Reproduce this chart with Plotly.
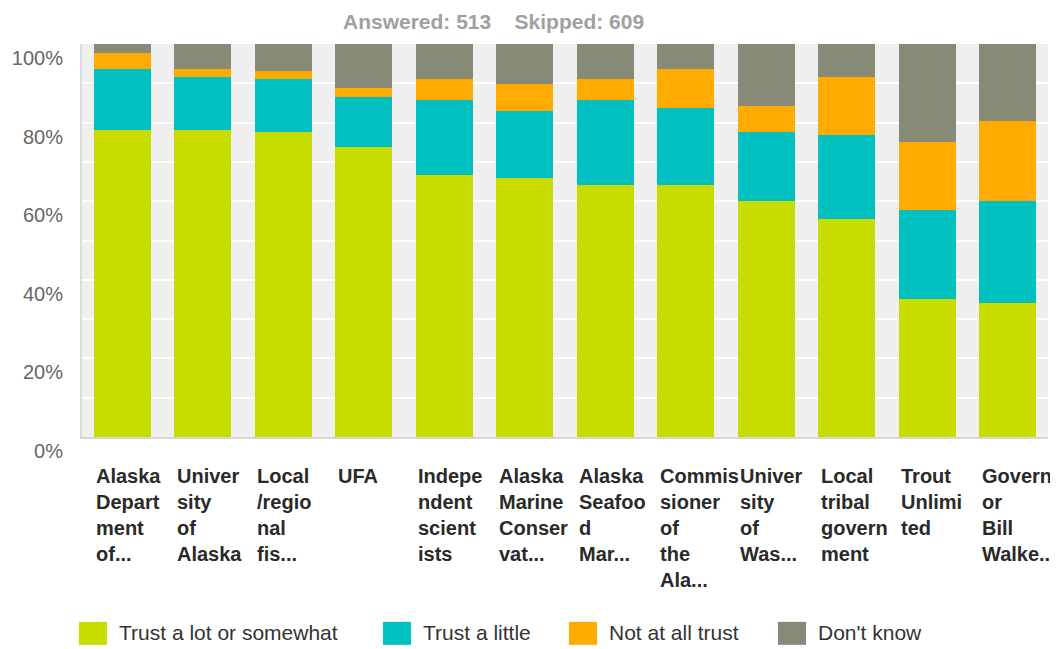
import plotly.graph_objects as go

# ---------------- data ----------------
categories = [
    "Alaska Department of Fish and Game",
    "University of Alaska",
    "Local/regional fishing organizations",
    "UFA",
    "Independent scientists",
    "Alaska Marine Conservation Council",
    "Alaska Seafood Marketing Institute",
    "Commissioner of the Alaska Department of Fish and Game",
    "University of Washington",
    "Local tribal government",
    "Trout Unlimited",
    "Governor Bill Walker",
]
tick_labels = [
    "Alaska<br>Depart<br>ment<br>of...",
    "Univer<br>sity<br>of<br>Alaska",
    "Local<br>/regio<br>nal<br>fis...",
    "UFA",
    "Indepe<br>ndent<br>scient<br>ists",
    "Alaska<br>Marine<br>Conser<br>vat...",
    "Alaska<br>Seafoo<br>d<br>Mar...",
    "Commis<br>sioner<br>of<br>the<br>Ala...",
    "Univer<br>sity<br>of<br>Was...",
    "Local<br>tribal<br>govern<br>ment",
    "Trout<br>Unlimi<br>ted",
    "Govern<br>or<br>Bill<br>Walke...",
]
trust_lot = [78.0, 78.0, 77.5, 73.7, 66.6, 66.0, 64.1, 64.1, 60.1, 55.4, 35.0, 34.1]
trust_little = [15.6, 13.7, 13.7, 12.8, 19.2, 16.9, 21.7, 19.5, 17.4, 21.5, 22.7, 26.0]
not_at_all = [4.1, 1.9, 1.9, 2.2, 5.4, 6.8, 5.4, 10.0, 6.6, 14.8, 17.4, 20.4]
dont_know = [2.3, 6.4, 6.9, 11.3, 8.8, 10.3, 8.8, 6.4, 15.9, 8.3, 24.9, 19.5]

series_names = ["Trust a lot or somewhat", "Trust a little", "Not at all trust", "Don't know"]
series_values = [trust_lot, trust_little, not_at_all, dont_know]
series_colors = ["#c8dc00", "#00c0c0", "#ffab00", "#878a77"]

y_ticks = [0, 20, 40, 60, 80, 100]
title_text = "Answered: 513\u00a0\u00a0\u00a0\u00a0Skipped: 609"

# ---------------- layout geometry ----------------
# page has an 8px body margin; work in page pixels and convert
OFF = 8
W, H = 1058 - OFF, 649 - OFF
PL, PR, PT, PB = 82, 1048, 43.7, 437   # plot area in page pixels
ML, MR, MT, MB = PL - OFF, W - (PR - OFF), PT - OFF, H - (PB - OFF)
PW, PH = PR - PL, PB - PT
FONT = "Arial, Liberation Sans, sans-serif"


def px_x(p):
    return (p - PL) / PW


def px_y(p):
    return (PB - p) / PH


fig = go.Figure()
for name, vals, col in zip(series_names, series_values, series_colors):
    fig.add_trace(go.Bar(
        x=categories, y=vals, name=name,
        marker=dict(color=col, line=dict(width=0)),
        showlegend=False,
    ))

annotations = []
# title (anchored to the top edge of the figure so it is not clipped)
annotations.append(dict(
    text=title_text, xref="paper", yref="paper",
    x=px_x(493), y=px_y(OFF + 0.5), xanchor="center", yanchor="top",
    borderpad=0, showarrow=False,
    font=dict(family=FONT, size=21, color="#a0a0a0", weight="bold"),
))
# category labels (left-aligned, wrapped)
for cat, lab in zip(categories, tick_labels):
    annotations.append(dict(
        text=lab, x=cat, xref="x", y=0, yref="paper",
        xanchor="left", yanchor="top", align="left",
        xshift=-28, yshift=-26, showarrow=False,
        font=dict(family=FONT, size=20, color="#2a2a2a", weight="bold"),
    ))

# manual legend
legend_x = [79, 383, 569, 778]
shapes = []
for lx, name, col in zip(legend_x, series_names, series_colors):
    shapes.append(dict(
        type="rect", xref="paper", yref="paper",
        x0=px_x(lx), x1=px_x(lx + 28), y0=px_y(645), y1=px_y(622),
        fillcolor=col, line=dict(width=0), layer="above",
    ))
    annotations.append(dict(
        text=name, xref="paper", yref="paper",
        x=px_x(lx + 38), y=px_y(633), xanchor="left", yanchor="middle",
        showarrow=False, font=dict(family=FONT, size=21, color="#333333"),
    ))

fig.update_layout(
    width=W, height=H,
    margin=dict(l=ML, r=MR, t=MT, b=MB, pad=0, autoexpand=False),
    barmode="stack", bargap=0.29,
    plot_bgcolor="#efefef", paper_bgcolor="#ffffff",
    font=dict(family=FONT),
    annotations=annotations, shapes=shapes,
    xaxis=dict(
        type="category", range=[-0.5, len(categories) - 0.5],
        showticklabels=False, showgrid=False, ticks="",
        showline=True, linecolor="#d6d6d6", linewidth=2,
    ),
    yaxis=dict(
        range=[0, 100], tickvals=y_ticks, ticktext=[f"{v}%" for v in y_ticks],
        ticklabelposition="outside bottom", ticks="",
        tickfont=dict(family=FONT, size=20, color="#666666"),
        ticklabelstandoff=13,
        showgrid=True, gridcolor="#ffffff", gridwidth=1.5,
        minor=dict(dtick=10, showgrid=True, gridcolor="#ffffff", gridwidth=1.5),
        showline=True, linecolor="#dcdcdc", linewidth=2, zeroline=False,
    ),
)

fig.write_html("out.html")
